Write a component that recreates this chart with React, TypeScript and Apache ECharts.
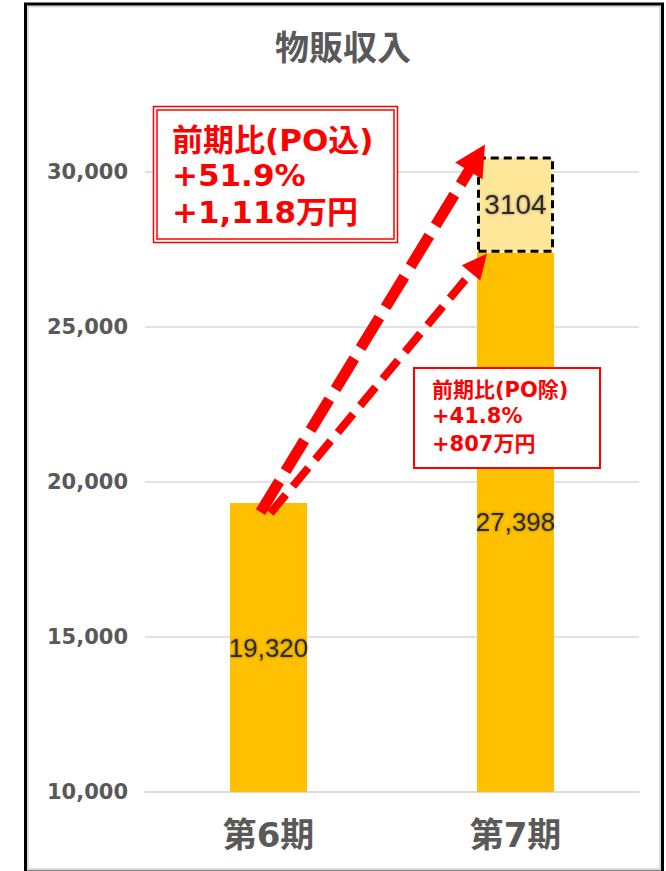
import React, { useEffect, useRef } from 'react';
import * as echarts from 'echarts';

const categories = ['第6期', '第7期'];
const baseValues = [19320, 27398];
const poValues: (number | string)[] = ['-', 3104];
const yMin = 10000;
const yMax = 30600;
const yInterval = 5000;
const titleText = '物販収入';
const noteWithPO = ['前期比(PO込)', '+51.9%', '+1,118万円'];
const noteWithoutPO = ['前期比(PO除)', '+41.8%', '+807万円'];

const MIXED = '"DejaVu Sans", "Noto Sans CJK JP", sans-serif';
const CJK = '"Noto Sans CJK JP", sans-serif';
const BAR_W = 77;

function arrow(tail: number[], tip: number[], width: number, headLen: number, headHalf: number, dash: number[]) {
  const dx = tip[0] - tail[0];
  const dy = tip[1] - tail[1];
  const len = Math.hypot(dx, dy);
  const ux = dx / len;
  const uy = dy / len;
  const base = [tip[0] - ux * (headLen - 2), tip[1] - uy * (headLen - 2)];
  const hb = [tip[0] - ux * headLen, tip[1] - uy * headLen];
  const px = -uy;
  const py = ux;
  return [
    {
      type: 'polyline',
      z: 100,
      shape: { points: [tail, base] },
      style: { stroke: '#FF0000', lineWidth: width, lineDash: dash, lineCap: 'butt', fill: null },
    },
    {
      type: 'polygon',
      z: 101,
      shape: {
        points: [tip, [hb[0] + px * headHalf, hb[1] + py * headHalf], [hb[0] - px * headHalf, hb[1] - py * headHalf]],
      },
      style: { fill: '#FF0000' },
    },
  ];
}

export default function App() {
  const ref = useRef<HTMLDivElement>(null);
  useEffect(() => {
    const chart = echarts.init(ref.current!, null, { renderer: 'svg' });
    const labelStyle = {
      color: '#2b2b2b',
      fontFamily: '"Liberation Sans", Arial, sans-serif',
      textShadowColor: 'rgba(0,0,0,0.4)',
      textShadowBlur: 3,
    };
    chart.setOption({
      animation: false,
      backgroundColor: '#ffffff',
      title: {
        text: titleText,
        left: 343,
        top: 28,
        padding: 0,
        textAlign: 'center',
        textStyle: { fontSize: 34, fontWeight: 'bold', color: '#595959', fontFamily: CJK },
      },
      grid: { left: 145, right: 27, top: 153.4, bottom: 79 },
      xAxis: {
        type: 'category',
        data: categories,
        axisTick: { show: false },
        axisLine: { lineStyle: { color: '#D9D9D9', width: 1.5 } },
        axisLabel: { margin: 26, fontSize: 34, fontWeight: 'bold', color: '#595959', fontFamily: MIXED },
      },
      yAxis: {
        type: 'value',
        min: yMin,
        max: yMax,
        interval: yInterval,
        axisLine: { show: false },
        axisTick: { show: false },
        splitLine: { showMaxLine: false, lineStyle: { color: '#D9D9D9', width: 1.5 } },
        axisLabel: {
          margin: 17,
          fontSize: 21,
          fontWeight: 'bold',
          color: '#595959',
          showMaxLabel: false,
          fontFamily: '"DejaVu Sans", sans-serif',
          formatter: (v: number) => v.toLocaleString('en-US'),
        },
      },
      series: [
        {
          name: '物販収入',
          type: 'bar',
          stack: 'total',
          barWidth: BAR_W,
          data: baseValues,
          itemStyle: { color: '#FFC000' },
          label: {
            show: true,
            position: 'inside',
            fontSize: 26,
            ...labelStyle,
            formatter: (p: any) => Number(p.value).toLocaleString('en-US'),
          },
        },
        {
          name: 'PO',
          type: 'bar',
          stack: 'total',
          barWidth: BAR_W,
          data: poValues,
          itemStyle: { color: '#FFE699', borderColor: '#000000', borderWidth: 3, borderType: [8, 5] },
          label: { show: true, position: 'inside', fontSize: 28, ...labelStyle, formatter: '{c}' },
        },
      ],
    });

    const p1 = chart.convertToPixel({ gridIndex: 0 }, [categories[0], baseValues[0]]) as number[];
    const p2 = chart.convertToPixel({ gridIndex: 0 }, [categories[1], baseValues[1]]) as number[];
    const p3 = chart.convertToPixel({ gridIndex: 0 }, [categories[1], baseValues[1] + (poValues[1] as number)]) as number[];
    const left2 = p2[0] - BAR_W / 2;

    const bigArrow = arrow([p1[0] - 8, p1[1] + 9], [left2 + 8, p3[1] - 12], 11, 31, 16, [36, 12]);
    const smallArrow = arrow([p1[0] + 2, p1[1] + 10], [left2 + 10, p2[1] + 1], 8, 25, 12, [24, 11]);

    const textLine = (t: string, x: number, y: number, size: number) => ({
      type: 'text',
      z: 110,
      x,
      y,
      style: {
        text: t,
        fill: '#FF0000',
        fontSize: size,
        fontWeight: 'bold',
        fontFamily: MIXED,
        textAlign: 'left',
        textVerticalAlign: 'middle',
      },
    });

    chart.setOption({
      graphic: [
        {
          type: 'rect',
          z: 120,
          shape: { x: 25.5, y: 4, width: 637, height: 868 },
          style: { fill: null, stroke: '#000000', lineWidth: 3 },
        },
        {
          type: 'rect',
          z: 119,
          shape: { x: 28, y: 6.5, width: 632, height: 862.5 },
          style: { fill: null, stroke: '#D0D0D0', lineWidth: 1.5 },
        },
        {
          type: 'rect',
          z: 105,
          shape: { x: 153.5, y: 106.5, width: 244, height: 136 },
          style: { fill: '#ffffff', stroke: '#FF0000', lineWidth: 1.5 },
        },
        {
          type: 'rect',
          z: 106,
          shape: { x: 157, y: 110, width: 237, height: 129 },
          style: { fill: null, stroke: '#FF0000', lineWidth: 1.5 },
        },
        textLine(noteWithPO[0], 172, 140, 31),
        textLine(noteWithPO[1], 172, 175, 31),
        textLine(noteWithPO[2], 172, 212, 31),
        {
          type: 'rect',
          z: 105,
          shape: { x: 414, y: 368, width: 186, height: 100 },
          style: { fill: '#ffffff', stroke: '#FF0000', lineWidth: 2 },
        },
        textLine(noteWithoutPO[0], 432, 390, 21),
        textLine(noteWithoutPO[1], 432, 416, 21),
        textLine(noteWithoutPO[2], 432, 444, 21),
        ...bigArrow,
        ...smallArrow,
      ],
    });

    return () => chart.dispose();
  }, []);

  return (
    <div
      ref={ref}
      style={{ position: 'fixed', left: 0, top: 0, width: 666, height: 871, background: '#fff' }}
    />
  );
}
